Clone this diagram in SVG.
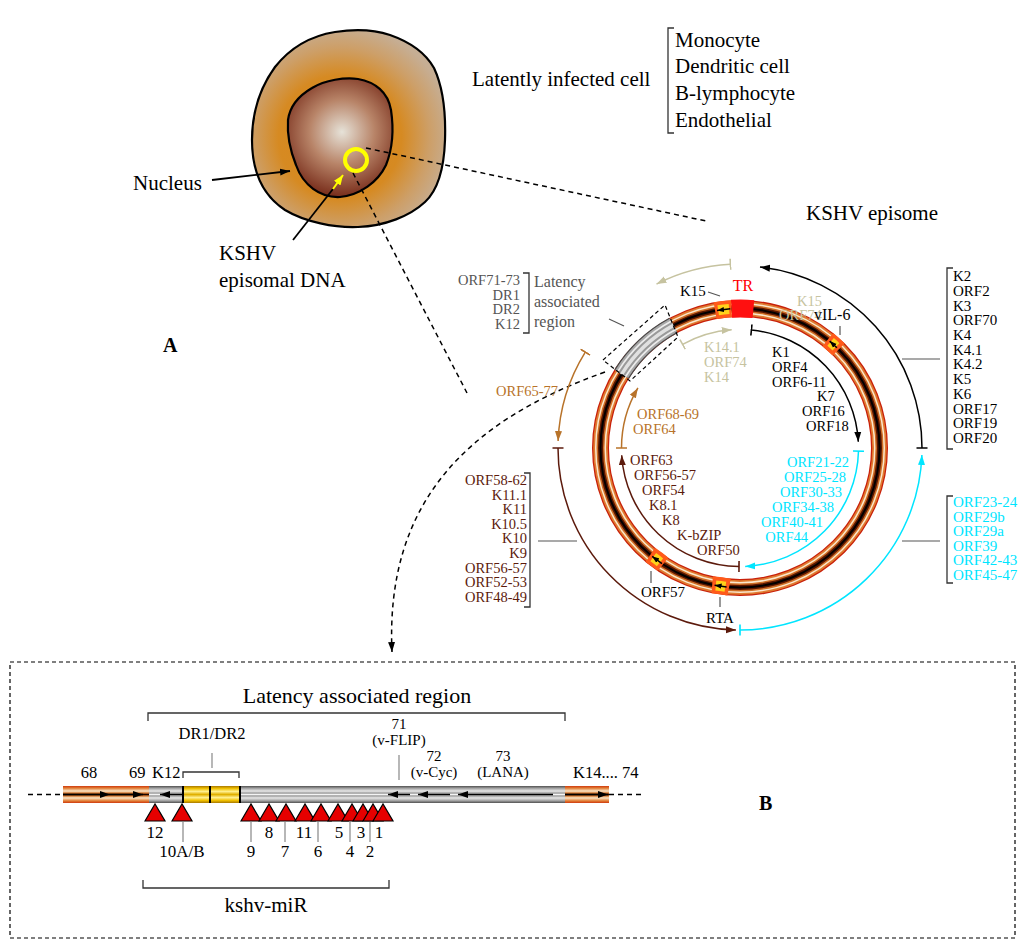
<svg xmlns="http://www.w3.org/2000/svg" width="1024" height="946" viewBox="0 0 1024 946">
<style>
text{font-family:"Liberation Serif","Times New Roman",serif;}
.f21{font-size:21px}
.f16{font-size:16px}
.f165{font-size:16.5px}
.f15{font-size:15px}
.f145{font-size:14.5px}
.f17{font-size:17px}
.mid{text-anchor:middle}
.end{text-anchor:end}
.k{fill:#000}
.cy{fill:#00e5ff}
.br{fill:#5c1a0c}
.or{fill:#b8732a}
.kh{fill:#c6c3a0}
.gr{fill:#555}
.dash{fill:none;stroke:#000;stroke-width:1.5;stroke-dasharray:5 4}
.lead{fill:none;stroke:#555;stroke-width:1.2}
.brk{fill:none;stroke:#333;stroke-width:1.3}
.arc{fill:none;stroke-width:1.5}
.seg{fill:none;stroke-linecap:butt}
.tri{fill:#e60000;stroke:#000;stroke-width:1.2;stroke-linejoin:miter}
.tick{stroke:#888;stroke-width:1.2}
</style>
<defs>
<radialGradient id="cyto" cx="340" cy="137" r="112" gradientUnits="userSpaceOnUse">
<stop offset="0" stop-color="#d8861a"/>
<stop offset="0.55" stop-color="#d68a22"/>
<stop offset="0.8" stop-color="#cd9f68"/>
<stop offset="1" stop-color="#c6ae94"/>
</radialGradient>
<radialGradient id="nuc" cx="342" cy="132" r="72" gradientUnits="userSpaceOnUse">
<stop offset="0" stop-color="#e6e2d8"/>
<stop offset="0.45" stop-color="#b88468"/>
<stop offset="1" stop-color="#6a1a0a"/>
</radialGradient>
<linearGradient id="gOr" x1="0" y1="0" x2="0" y2="1">
<stop offset="0" stop-color="#d03a10"/>
<stop offset="0.12" stop-color="#e07a30"/>
<stop offset="0.3" stop-color="#fbe6c8"/>
<stop offset="0.42" stop-color="#d07028"/>
<stop offset="0.5" stop-color="#1a0500"/>
<stop offset="0.58" stop-color="#d07028"/>
<stop offset="0.7" stop-color="#fbe6c8"/>
<stop offset="0.88" stop-color="#e07a30"/>
<stop offset="1" stop-color="#d03a10"/>
</linearGradient>
<linearGradient id="gGr" x1="0" y1="0" x2="0" y2="1">
<stop offset="0" stop-color="#505050"/>
<stop offset="0.15" stop-color="#a8a8a8"/>
<stop offset="0.3" stop-color="#e8e8e8"/>
<stop offset="0.42" stop-color="#9a9a9a"/>
<stop offset="0.5" stop-color="#f4f4f4"/>
<stop offset="0.58" stop-color="#9a9a9a"/>
<stop offset="0.7" stop-color="#e8e8e8"/>
<stop offset="0.85" stop-color="#a8a8a8"/>
<stop offset="1" stop-color="#505050"/>
</linearGradient>
<linearGradient id="gYe" x1="0" y1="0" x2="0" y2="1">
<stop offset="0" stop-color="#a87800"/>
<stop offset="0.15" stop-color="#f0c000"/>
<stop offset="0.32" stop-color="#fff090"/>
<stop offset="0.5" stop-color="#e0b000"/>
<stop offset="0.68" stop-color="#fff090"/>
<stop offset="0.85" stop-color="#f0c000"/>
<stop offset="1" stop-color="#a87800"/>
</linearGradient>
<marker id="ahK" viewBox="-10 -5 11 10" refX="0" refY="0" markerWidth="11" markerHeight="10" orient="auto" markerUnits="userSpaceOnUse"><path d="M0,0 L-10,-3.5 L-10,3.5 Z" fill="#000"/></marker>
<marker id="ahC" viewBox="-10 -5 11 10" refX="0" refY="0" markerWidth="11" markerHeight="10" orient="auto" markerUnits="userSpaceOnUse"><path d="M0,0 L-10,-3.5 L-10,3.5 Z" fill="#00e5ff"/></marker>
<marker id="ahB" viewBox="-10 -5 11 10" refX="0" refY="0" markerWidth="11" markerHeight="10" orient="auto" markerUnits="userSpaceOnUse"><path d="M0,0 L-10,-3.5 L-10,3.5 Z" fill="#5c1a0c"/></marker>
<marker id="ahO" viewBox="-10 -5 11 10" refX="0" refY="0" markerWidth="11" markerHeight="10" orient="auto" markerUnits="userSpaceOnUse"><path d="M0,0 L-10,-3.5 L-10,3.5 Z" fill="#b8732a"/></marker>
<marker id="ahH" viewBox="-10 -5 11 10" refX="0" refY="0" markerWidth="11" markerHeight="10" orient="auto" markerUnits="userSpaceOnUse"><path d="M0,0 L-10,-3.5 L-10,3.5 Z" fill="#c6c3a0"/></marker>
<marker id="ahY" viewBox="-10 -5 11 10" refX="0" refY="0" markerWidth="11" markerHeight="10" orient="auto" markerUnits="userSpaceOnUse"><path d="M0,0 L-10,-4 L-10,4 Z" fill="#ffff00"/></marker>
<marker id="ahS" viewBox="-7 -3 8 6" refX="0" refY="0" markerWidth="8" markerHeight="6" orient="auto" markerUnits="userSpaceOnUse"><path d="M0,0 L-7,-2.6 L-7,2.6 Z" fill="#000"/></marker>
<marker id="barK" viewBox="-1 -6 2 12" refX="0" refY="0" markerWidth="2" markerHeight="12" orient="auto" markerUnits="userSpaceOnUse"><path d="M0,-5.5 L0,5.5" stroke="#000" stroke-width="1.6"/></marker>
<marker id="barC" viewBox="-1 -6 2 12" refX="0" refY="0" markerWidth="2" markerHeight="12" orient="auto" markerUnits="userSpaceOnUse"><path d="M0,-5.5 L0,5.5" stroke="#00e5ff" stroke-width="1.6"/></marker>
<marker id="barB" viewBox="-1 -6 2 12" refX="0" refY="0" markerWidth="2" markerHeight="12" orient="auto" markerUnits="userSpaceOnUse"><path d="M0,-5.5 L0,5.5" stroke="#5c1a0c" stroke-width="1.6"/></marker>
<marker id="barO" viewBox="-1 -6 2 12" refX="0" refY="0" markerWidth="2" markerHeight="12" orient="auto" markerUnits="userSpaceOnUse"><path d="M0,-5.5 L0,5.5" stroke="#b8732a" stroke-width="1.6"/></marker>
<marker id="barH" viewBox="-1 -6 2 12" refX="0" refY="0" markerWidth="2" markerHeight="12" orient="auto" markerUnits="userSpaceOnUse"><path d="M0,-5.5 L0,5.5" stroke="#c6c3a0" stroke-width="1.6"/></marker>
</defs>

<rect width="1024" height="946" fill="#fff"/>

<!-- Panel A: cell -->
<g id="cell">
<path d="M252,140 C252,110 262,85 275,67 C290,48 310,36 335,32 C355,29 375,30 390,35 C410,42 425,52 434,68 C442,85 446,110 445,140 C444,170 438,190 425,202 C410,216 385,226 358,227 C335,228 305,222 285,210 C262,195 252,170 252,140 Z" fill="url(#cyto)" stroke="#000" stroke-width="2.2"/>
</g>
<g id="nucleus">
<path d="M288,120 C290,105 300,95 312,88 C325,80 345,77 358,79 C375,82 388,92 391,110 C394,130 392,150 386,165 C378,182 360,195 340,197 C320,198 303,185 296,165 C290,150 287,135 288,120 Z" fill="url(#nuc)" stroke="#000" stroke-width="2.2"/>
</g>
<g id="episomal-dna">
<circle cx="356" cy="160" r="11" fill="none" stroke="#ffff00" stroke-width="4"/>
</g>
<g id="labels-A">
<text class="f21" x="133" y="190">Nucleus</text>
<text class="f21" x="219" y="260">KSHV</text>
<text class="f21" x="219" y="287">episomal DNA</text>
<text class="f21" x="472" y="86">Latently infected cell</text>
<path class="brk" d="M674,28 H668 V133 H674"/>
<text class="f21" x="675" y="47">Monocyte</text>
<text class="f21" x="675" y="73">Dendritic cell</text>
<text class="f21" x="675" y="100">B-lymphocyte</text>
<text class="f21" x="675" y="127">Endothelial</text>
<text class="f21" x="806" y="220">KSHV episome</text>
<text x="163" y="352" style="font-size:20px;font-weight:bold">A</text>
<text x="759" y="810" style="font-size:20px;font-weight:bold">B</text>
</g>

<!-- Episome ring -->
<g id="episome-ring">
<circle cx="740" cy="448" r="139.5" fill="none" stroke="#c8200a" stroke-width="17"/>
<circle cx="740" cy="448" r="139.5" fill="none" stroke="#e07a30" stroke-width="14.5"/>
<circle cx="740" cy="448" r="139.5" fill="none" stroke="#fbe8cc" stroke-width="11"/>
<circle cx="740" cy="448" r="139.5" fill="none" stroke="#cf6e26" stroke-width="8"/>
<circle cx="740" cy="448" r="139.5" fill="none" stroke="#5a1600" stroke-width="5"/>
<circle cx="740" cy="448" r="139.5" fill="none" stroke="#000" stroke-width="2"/>
</g>
<g id="latency-segment">
<path class="seg" d="M621.7,374.1 A139.5,139.5 0 0 1 673.4,325.4" stroke="#4a4a4a" stroke-width="17.5"/>
<path class="seg" d="M621.7,374.1 A139.5,139.5 0 0 1 673.4,325.4" stroke="#a8a8a8" stroke-width="15"/>
<path class="seg" d="M621.7,374.1 A139.5,139.5 0 0 1 673.4,325.4" stroke="#ececec" stroke-width="11"/>
<path class="seg" d="M621.7,374.1 A139.5,139.5 0 0 1 673.4,325.4" stroke="#9a9a9a" stroke-width="7.5"/>
<path class="seg" d="M621.7,374.1 A139.5,139.5 0 0 1 673.4,325.4" stroke="#e0e0e0" stroke-width="3.5"/>
<polygon points="603,360 665,305 678,337 630,381" fill="none" stroke="#000" stroke-width="1.2" stroke-dasharray="4 3"/>
</g>
<g id="TR">
<path class="seg" d="M731.5,308.8 A139.5,139.5 0 0 1 753.4,309.1" stroke="#ff1010" stroke-width="18"/>
<text class="f16 mid" x="743" y="291" fill="#ff0000">TR</text>
</g>
<g id="ring-markers">
<path class="seg" d="M715.1,310.7 A139.5,139.5 0 0 1 731.5,308.8" stroke="#ff5a1a" stroke-width="17"/>
<path class="seg" d="M718.2,310.2 A139.5,139.5 0 0 1 729.1,308.9" stroke="#ffd21a" stroke-width="10"/>
<path d="M730.3,308.8 L717,310.4" stroke="#000" stroke-width="1.5" marker-end="url(#ahS)"/>

<path class="seg" d="M827.8,339.6 A139.5,139.5 0 0 1 838.6,349.4" stroke="#ff5a1a" stroke-width="17"/>
<path class="seg" d="M830.6,341.9 A139.5,139.5 0 0 1 836.0,346.8" stroke="#ffd21a" stroke-width="10"/>
<path d="M836.9,347.7 L829.7,341.1" stroke="#000" stroke-width="1.5" marker-end="url(#ahS)"/>

<path class="seg" d="M650.3,554.9 A139.5,139.5 0 0 1 663.0,564.3" stroke="#ff5a1a" stroke-width="17"/>
<path class="seg" d="M653.2,557.2 A139.5,139.5 0 0 1 660.0,562.3" stroke="#ffd21a" stroke-width="10"/>
<path d="M662,563.6 L652.2,556.4" stroke="#000" stroke-width="1.5" marker-end="url(#ahS)"/>

<path class="seg" d="M712.2,584.7 A139.5,139.5 0 0 1 729.1,587.1" stroke="#ff5a1a" stroke-width="17"/>
<path class="seg" d="M715.8,585.4 A139.5,139.5 0 0 1 725.4,586.7" stroke="#ffd21a" stroke-width="10"/>
<path d="M726.6,586.9 L714.6,585.2" stroke="#000" stroke-width="1.5" marker-end="url(#ahS)"/>
</g>

<!-- Connectors -->
<g id="connectors">
<path class="dash" d="M366,148 L706,221"/>
<path class="dash" d="M353,173 L467,393"/>
<path class="dash" d="M605,372 C470,420 385,500 392,652" marker-end="url(#ahK)"/>
<path d="M212,180 L290,171" stroke="#000" stroke-width="1.8" marker-end="url(#ahK)"/>
<path d="M293,240 L333,189" stroke="#000" stroke-width="1.8"/>
<path d="M333,189 L343,175" stroke="#ffff00" stroke-width="2" marker-end="url(#ahY)"/>

<!-- outer arcs -->
<path class="arc" stroke="#000" d="M922,448 A182,182 0 0 0 760.0,267.1" marker-start="url(#barK)" marker-end="url(#ahK)"/>
<path class="arc" stroke="#00e5ff" d="M740,630 A182,182 0 0 0 921.9,455.0" marker-start="url(#barC)" marker-end="url(#ahC)"/>
<path class="arc" stroke="#5c1a0c" d="M558,448 A182,182 0 0 0 735.9,630.0" marker-start="url(#barB)" marker-end="url(#ahB)"/>
<path class="arc" stroke="#b8732a" d="M585.3,352.1 A182,182 0 0 0 558.1,441.0" marker-start="url(#barO)" marker-end="url(#ahO)"/>
<path class="arc" stroke="#c6c3a0" d="M730.4,264.3 A184,184 0 0 0 656.5,284.1" marker-start="url(#barH)" marker-end="url(#ahH)"/>
<!-- inner arcs -->
<path class="arc" stroke="#c6c3a0" d="M682.6,344.4 A118.5,118.5 0 0 1 731.7,329.8" marker-start="url(#barH)" marker-end="url(#ahH)"/>
<path class="arc" stroke="#000" d="M751.4,330.0 A118.5,118.5 0 0 1 858.3,441.8" marker-start="url(#barK)" marker-end="url(#ahK)"/>
<path class="arc" stroke="#00e5ff" d="M858.5,451.1 A118.5,118.5 0 0 1 745.2,566.4" marker-start="url(#barC)" marker-end="url(#ahC)"/>
<path class="arc" stroke="#5c1a0c" d="M739.0,566.5 A118.5,118.5 0 0 1 621.7,455.2" marker-start="url(#barB)" marker-end="url(#ahB)"/>
<path class="arc" stroke="#b8732a" d="M621.5,448 A118.5,118.5 0 0 1 637.9,387.9" marker-start="url(#barO)" marker-end="url(#ahO)"/>

<!-- leader lines -->
<path class="lead" d="M902,359 H940"/>
<path class="lead" d="M902,541 H940"/>
<path class="lead" d="M538,541 H577"/>
<path class="lead" d="M609,319 L624,326"/>
<path class="lead" d="M708,292 L720,296" stroke="#000"/>
<path class="lead" d="M840,326 V335"/>
<path class="lead" d="M651,571 V583"/>
<path class="lead" d="M720,597 V607"/>
</g>

<!-- Ring labels -->
<g id="label-latency-top">
<text class="f145 gr end" x="520" y="285">ORF71-73</text>
<text class="f145 gr end" x="520" y="299.5">DR1</text>
<text class="f145 gr end" x="520" y="314">DR2</text>
<text class="f145 gr end" x="520" y="328.5">K12</text>
<path class="brk" d="M523,273 H529 V333 H523" stroke="#555"/>
<text class="f16 gr" x="534" y="287">Latency</text>
<text class="f16 gr" x="534" y="307">associated</text>
<text class="f16 gr" x="534" y="327">region</text>
</g>
<g id="label-top">
<text class="f15" x="680" y="296">K15</text>
<text class="f145 kh" x="797" y="306">K15</text>
<text class="f145 kh" x="779" y="320">ORF74</text>
<text class="f16" x="814" y="320">vIL-6</text>
<text class="f145 kh" x="704" y="352">K14.1</text>
<text class="f145 kh" x="704" y="367">ORF74</text>
<text class="f145 kh" x="704" y="382">K14</text>
</g>
<g id="label-inner-black">
<text class="f145" x="772" y="357">K1</text>
<text class="f145" x="772" y="372">ORF4</text>
<text class="f145" x="772" y="387">ORF6-11</text>
<text class="f145" x="817" y="401">K7</text>
<text class="f145" x="802" y="416">ORF16</text>
<text class="f145" x="806" y="431">ORF18</text>
</g>
<g id="label-inner-orange">
<text class="f145 or" x="637" y="419">ORF68-69</text>
<text class="f145 or" x="633" y="434">ORF64</text>
<text class="f145 or" x="496" y="396">ORF65-77</text>
</g>
<g id="label-inner-brown">
<text class="f145 br" x="630" y="465">ORF63</text>
<text class="f145 br" x="634" y="480">ORF56-57</text>
<text class="f145 br" x="642" y="495">ORF54</text>
<text class="f145 br" x="649" y="510">K8.1</text>
<text class="f145 br" x="662" y="525">K8</text>
<text class="f145 br" x="677" y="540">K-bZIP</text>
<text class="f145 br" x="697" y="555">ORF50</text>
</g>
<g id="label-inner-cyan">
<text class="f145 cy end" x="849" y="467">ORF21-22</text>
<text class="f145 cy end" x="846" y="482">ORF25-28</text>
<text class="f145 cy end" x="842" y="497">ORF30-33</text>
<text class="f145 cy end" x="834" y="512">ORF34-38</text>
<text class="f145 cy end" x="823" y="527">ORF40-41</text>
<text class="f145 cy end" x="808" y="542">ORF44</text>
</g>
<g id="label-orf57-rta">
<text class="f15 mid" x="663" y="597">ORF57</text>
<text class="f15 mid" x="720" y="623">RTA</text>
</g>
<g id="label-right-black">
<path class="brk" d="M953,268 H947 V449 H953"/>
<text class="f15" x="953" y="281">K2</text>
<text class="f15" x="953" y="295.7">ORF2</text>
<text class="f15" x="953" y="310.5">K3</text>
<text class="f15" x="953" y="325.2">ORF70</text>
<text class="f15" x="953" y="339.9">K4</text>
<text class="f15" x="953" y="354.7">K4.1</text>
<text class="f15" x="953" y="369.4">K4.2</text>
<text class="f15" x="953" y="384.1">K5</text>
<text class="f15" x="953" y="398.8">K6</text>
<text class="f15" x="953" y="413.6">ORF17</text>
<text class="f15" x="953" y="428.3">ORF19</text>
<text class="f15" x="953" y="443">ORF20</text>
</g>
<g id="label-right-cyan">
<path class="brk" d="M953,496 H947 V583 H953"/>
<text class="f15 cy" x="953" y="507">ORF23-24</text>
<text class="f15 cy" x="953" y="521.6">ORF29b</text>
<text class="f15 cy" x="953" y="536.2">ORF29a</text>
<text class="f15 cy" x="953" y="550.8">ORF39</text>
<text class="f15 cy" x="953" y="565.4">ORF42-43</text>
<text class="f15 cy" x="953" y="580">ORF45-47</text>
</g>
<g id="label-left-brown">
<path class="brk" d="M524,473 H530 V607 H524"/>
<text class="f145 br end" x="527" y="485">ORF58-62</text>
<text class="f145 br end" x="527" y="499.6">K11.1</text>
<text class="f145 br end" x="527" y="514.2">K11</text>
<text class="f145 br end" x="527" y="528.8">K10.5</text>
<text class="f145 br end" x="527" y="543.4">K10</text>
<text class="f145 br end" x="527" y="558">K9</text>
<text class="f145 br end" x="527" y="572.6">ORF56-57</text>
<text class="f145 br end" x="527" y="587.2">ORF52-53</text>
<text class="f145 br end" x="527" y="601.8">ORF48-49</text>
</g>

<!-- Panel B: linear latency region -->
<g id="latency-box">
<rect x="10" y="662" width="1005" height="276" fill="none" stroke="#000" stroke-width="1.2" stroke-dasharray="4 3"/>
<text class="mid" x="357" y="703" style="font-size:22px">Latency associated region</text>
<path class="brk" d="M148,721 V713 H565 V721"/>
</g>
<g id="linear-map">
<path class="dash" d="M28,794.5 H63"/>
<path class="dash" d="M609,794.5 H645"/>
<rect x="63" y="786" width="86" height="17" fill="url(#gOr)"/>
<rect x="149" y="786" width="416" height="17" fill="url(#gGr)"/>
<rect x="183" y="786" width="57" height="17" fill="url(#gYe)"/>
<rect x="565" y="786" width="44" height="17" fill="url(#gOr)"/>
<path d="M183,786 V803 M210,786 V803 M240,786 V803" stroke="#000" stroke-width="2"/>
<path d="M63,794.5 H110" stroke="#000" stroke-width="1.5" marker-end="url(#ahK)"/>
<path d="M110,794.5 H143" stroke="#000" stroke-width="1.5" marker-end="url(#ahK)"/>
<path d="M183,794.5 H160" stroke="#000" stroke-width="1.5" marker-end="url(#ahK)"/>
<path d="M410,794.5 H388" stroke="#000" stroke-width="1.5" marker-end="url(#ahK)"/>
<path d="M450,794.5 H418" stroke="#000" stroke-width="1.5" marker-end="url(#ahK)"/>
<path d="M553,794.5 H458" stroke="#000" stroke-width="1.5" marker-end="url(#ahK)"/>
<path d="M565,794.5 H608" stroke="#000" stroke-width="1.5" marker-end="url(#ahK)"/>
</g>
<g id="linear-labels">
<text class="f165 mid" x="89" y="778">68</text>
<text class="f165" x="129" y="778">69</text>
<text class="f165" x="152" y="778">K12</text>
<text class="f165" x="573" y="778">K14.... 74</text>
<text class="f165 mid" x="212" y="739">DR1/DR2</text>
<path class="tick" d="M212,753 V768"/>
<path class="brk" d="M183,778 V772 H239 V778"/>
<text class="f15 mid" x="399" y="729">71</text>
<text class="f15 mid" x="399" y="745">(v-FLIP)</text>
<path class="tick" d="M399,755 V780"/>
<text class="f15 mid" x="434" y="761">72</text>
<text class="f15 mid" x="434" y="777">(v-Cyc)</text>
<text class="f15 mid" x="503" y="761">73</text>
<text class="f15 mid" x="503" y="777">(LANA)</text>
</g>
<g id="mirnas">
<path class="tri" d="M145,821 L155,804 L165,821 Z"/>
<path class="tri" d="M172,821 L182,804 L192,821 Z"/>
<path class="tri" d="M241,821 L251,804 L261,821 Z"/>
<path class="tri" d="M259,821 L269,804 L279,821 Z"/>
<path class="tri" d="M276,821 L286,804 L296,821 Z"/>
<path class="tri" d="M295,821 L305,804 L315,821 Z"/>
<path class="tri" d="M311,821 L321,804 L331,821 Z"/>
<path class="tri" d="M328,821 L338,804 L348,821 Z"/>
<path class="tri" d="M342,821 L352,804 L362,821 Z"/>
<path class="tri" d="M353,821 L363,804 L373,821 Z"/>
<path class="tri" d="M363,821 L373,804 L383,821 Z"/>
<path class="tri" d="M373,821 L383,804 L393,821 Z"/>
<path class="tick" d="M183,822 V842 M251,822 V842 M285,822 V842 M318,822 V842 M350,822 V842 M370,822 V842"/>
<text class="f17 mid" x="155" y="838">12</text>
<text class="f17 mid" x="269" y="838">8</text>
<text class="f17 mid" x="304" y="838">11</text>
<text class="f17 mid" x="339" y="838">5</text>
<text class="f17 mid" x="361" y="838">3</text>
<text class="f17 mid" x="379" y="838">1</text>
<text class="f17 mid" x="182" y="857">10A/B</text>
<text class="f17 mid" x="251" y="857">9</text>
<text class="f17 mid" x="285" y="857">7</text>
<text class="f17 mid" x="318" y="857">6</text>
<text class="f17 mid" x="350" y="857">4</text>
<text class="f17 mid" x="370" y="857">2</text>
<path class="brk" d="M143,880 V888 H389 V880"/>
<text class="mid" x="266" y="912" style="font-size:21px">kshv-miR</text>
</g>
</svg>
